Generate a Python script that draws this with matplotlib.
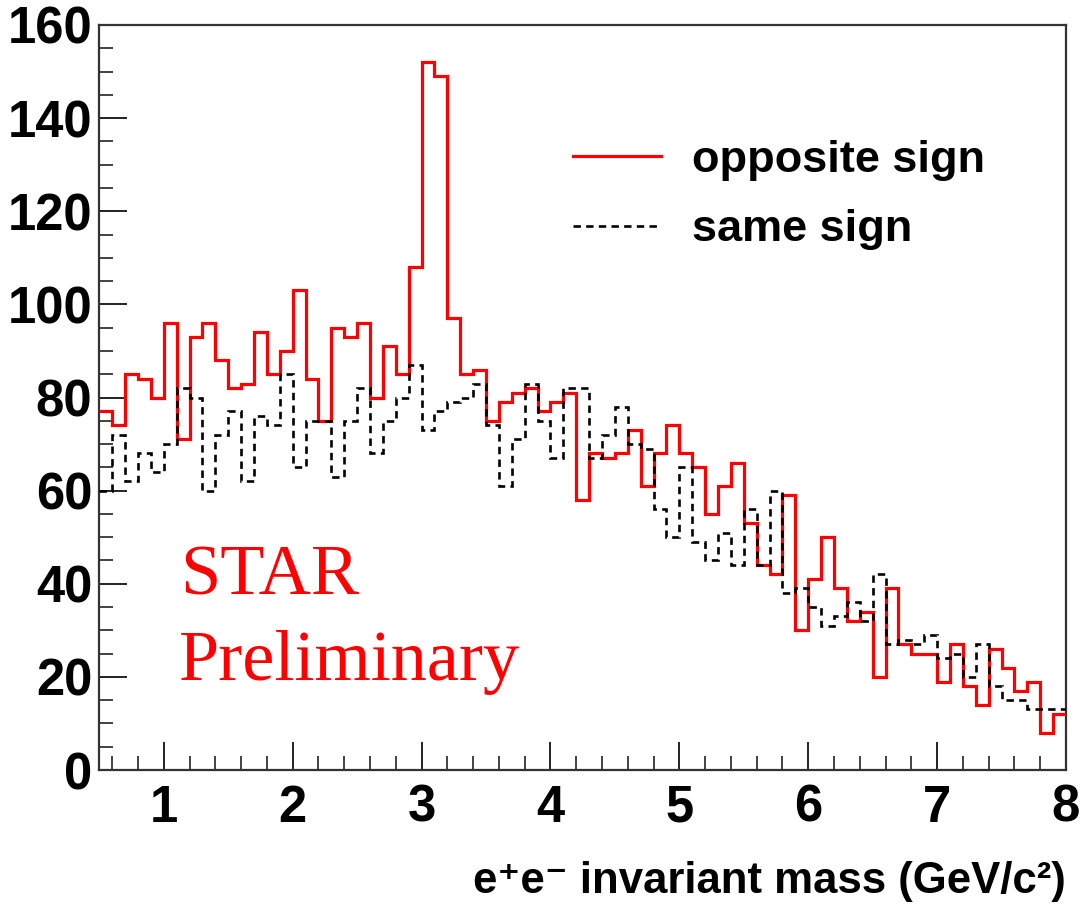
import numpy as np
import matplotlib
matplotlib.use("Agg")
import matplotlib.pyplot as plt
from matplotlib.lines import Line2D
from matplotlib.ticker import MultipleLocator

# ---- data (counts per 0.1 GeV/c^2 bin, 0.5 -> 8.0) ----
x_low = 0.5
x_high = 8.0
n_bins = 75

opposite_sign = [
    77, 74, 85, 84, 80, 96, 71, 93, 96, 88,
    82, 83, 94, 85, 90, 103, 84, 75, 95, 93,
    96, 80, 91, 85, 108, 152, 149, 97, 85, 86,
    75, 79, 81, 82, 77, 79, 81, 58, 68, 67,
    68, 73, 61, 68, 74, 68, 65, 55, 61, 66,
    53, 44, 42, 59, 30, 41, 50, 39, 32, 34,
    20, 39, 27, 25, 25, 19, 27, 18, 14, 26,
    22, 17, 19, 8, 12,
]

same_sign = [
    60, 72, 62, 68, 64, 70, 82, 80, 60, 72,
    77, 62, 76, 74, 85, 65, 75, 75, 63, 75,
    82, 68, 75, 80, 87, 73, 77, 79, 80, 83,
    74, 61, 71, 83, 75, 67, 82, 82, 67, 72,
    78, 70, 69, 56, 50, 65, 49, 45, 51, 44,
    56, 44, 60, 38, 39, 35, 31, 33, 36, 32,
    42, 27, 28, 27, 29, 24, 25, 20, 27, 18,
    15, 15, 13, 13, 13,
]

legend_labels = ["opposite sign", "same sign"]
x_ticks = [1, 2, 3, 4, 5, 6, 7, 8]
y_ticks = [0, 20, 40, 60, 80, 100, 120, 140, 160]
x_title = "e\u207ae\u207b invariant mass (GeV/c\u00b2)"

# ---- figure ----
W, H, DPI = 1083, 909, 100
fig = plt.figure(figsize=(W / DPI, H / DPI), dpi=DPI)
fig.patch.set_facecolor("white")

left, right, top, bottom = 99.3, 1066.0, 25.0, 770.0
ax = fig.add_axes([left / W, 1 - bottom / H, (right - left) / W, (bottom - top) / H])

edges = np.linspace(x_low, x_high, n_bins + 1)

dash = (0, (2.8, 2.0))
ax.stairs(opposite_sign, edges, baseline=None, color="#ff0000", linewidth=2.3, zorder=3)
ax.stairs(same_sign, edges, baseline=None, color="black", linewidth=1.9,
          linestyle=dash, zorder=4)

ax.set_xlim(x_low, x_high)
ax.set_ylim(0, 160)

ax.set_xticks(x_ticks)
ax.set_yticks(y_ticks)
ax.xaxis.set_minor_locator(MultipleLocator(0.2))
ax.yaxis.set_minor_locator(MultipleLocator(5))

ax.tick_params(axis="both", which="both", direction="in", top=False, right=False)
ax.tick_params(axis="both", which="major", length=20, width=1.4, color="#222222")
ax.tick_params(axis="both", which="minor", length=10, width=1.2, color="#222222")
ax.tick_params(axis="y", which="major", pad=5, labelsize=36.5)
ax.tick_params(axis="x", which="major", pad=10, labelsize=36.5)
for lab in ax.get_xticklabels() + ax.get_yticklabels():
    lab.set_fontfamily("Liberation Sans")
    lab.set_fontweight("bold")

for sp in ax.spines.values():
    sp.set_linewidth(1.6)
    sp.set_color("#333333")

# x axis title, right aligned at frame edge
fig.text(right / W, 1 - 893 / H, x_title, ha="right", va="baseline",
         fontsize=31.5, family=["Liberation Sans", "DejaVu Sans"], weight="bold")

# STAR Preliminary
ax.text(1.13, 37.6, "STAR", color="#ff0000", fontsize=52,
        family="Liberation Serif", va="baseline", ha="left")
ax.text(1.12, 19.3, "Preliminary", color="#ff0000", fontsize=52,
        family="Liberation Serif", va="baseline", ha="left")

# legend
handles = [
    Line2D([], [], color="#ff0000", linewidth=2.3),
    Line2D([], [], color="black", linewidth=1.9, linestyle=dash),
]
leg = fig.legend(handles, legend_labels, loc="center left",
                 bbox_to_anchor=(573 / W, 1 - 195 / H),
                 frameon=False, borderpad=0, borderaxespad=0,
                 handlelength=1.95, handletextpad=0.68, labelspacing=0.64,
                 prop=dict(family="Liberation Sans", weight="bold", size=32.5))

fig.savefig("out.png", dpi=DPI, facecolor="white")
